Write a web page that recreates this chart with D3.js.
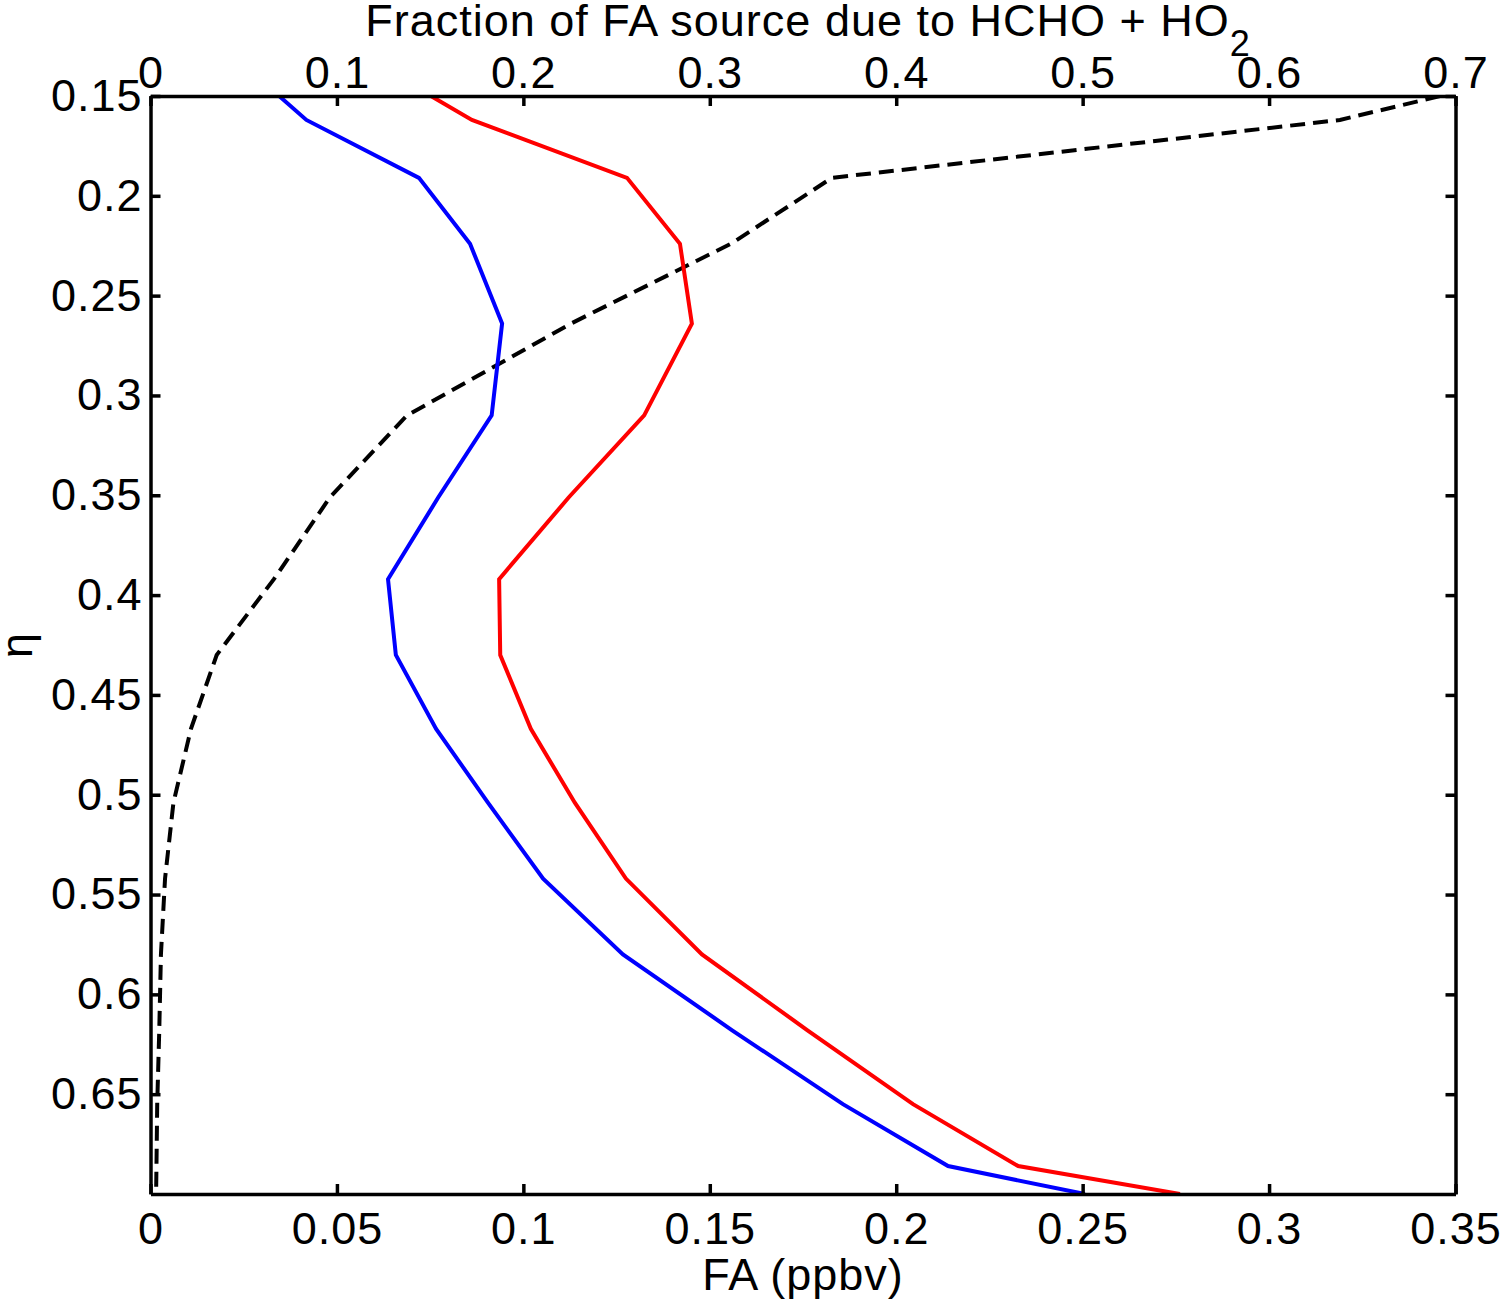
<!DOCTYPE html>
<html>
<head>
<meta charset="utf-8">
<script src="https://cdn.jsdelivr.net/npm/d3@7"></script>
<style>
  body { margin: 0; background: #fff; }
  svg text { font-family: "Liberation Sans", Arial, sans-serif; fill: #000; letter-spacing: 1px; }
</style>
</head>
<body>
<div id="chart"></div>
<script>
// eta levels (vertical coordinate)
const eta = [0.150, 0.162, 0.191, 0.224, 0.264, 0.310, 0.351, 0.392, 0.430, 0.467, 0.504, 0.542, 0.580, 0.618, 0.655, 0.686, 0.700];
// FA (ppbv), bottom axis
const faBlue = [0.0345, 0.0418, 0.0720, 0.0857, 0.0943, 0.0915, 0.0772, 0.0637, 0.0658, 0.0766, 0.0905, 0.1053, 0.1267, 0.1560, 0.1857, 0.2139, 0.2506];
const faRed = [0.0752, 0.0862, 0.1278, 0.1420, 0.1452, 0.1324, 0.1122, 0.0935, 0.0938, 0.1020, 0.1138, 0.1275, 0.1479, 0.1762, 0.2045, 0.2327, 0.2761];
// fraction of FA source due to HCHO + HO2, top axis
const fraction = [0.6917, 0.638, 0.3655, 0.3114, 0.2255, 0.1376, 0.0963, 0.0662, 0.0355, 0.0217, 0.0123, 0.0078, 0.0056, 0.0047, 0.0036, 0.0032, 0.0030];

const bottomTicks = [0, 0.05, 0.1, 0.15, 0.2, 0.25, 0.3, 0.35];
const bottomLabels = ["0", "0.05", "0.1", "0.15", "0.2", "0.25", "0.3", "0.35"];
const topTicks = [0, 0.1, 0.2, 0.3, 0.4, 0.5, 0.6, 0.7];
const topLabels = ["0", "0.1", "0.2", "0.3", "0.4", "0.5", "0.6", "0.7"];
const etaTicks = [0.15, 0.2, 0.25, 0.3, 0.35, 0.4, 0.45, 0.5, 0.55, 0.6, 0.65];
const etaLabels = ["0.15", "0.2", "0.25", "0.3", "0.35", "0.4", "0.45", "0.5", "0.55", "0.6", "0.65"];

const margin = {top: 96, right: 44.5, bottom: 108, left: 150.5};
const W = 1500, H = 1302;
const width = W - margin.left - margin.right;
const height = H - margin.top - margin.bottom;
const fontSize = "45px";

const svg = d3.select("#chart").append("svg")
    .attr("width", W)
    .attr("height", H);

const g = svg.append("g")
    .attr("transform", `translate(${margin.left},${margin.top})`);

const x = d3.scaleLinear().domain([0, 0.35]).range([0, width]);
const xTop = d3.scaleLinear().domain([0, 0.7]).range([0, width]);
const y = d3.scaleLinear().domain([0.15, 0.7]).range([0, height]);

g.append("clipPath").attr("id", "plot-clip")
    .append("rect").attr("width", width).attr("height", height);

// series
const rows = eta.map((e, i) => ({eta: e, blue: faBlue[i], red: faRed[i], frac: fraction[i]}));

const lines = g.append("g").attr("clip-path", "url(#plot-clip)");

lines.append("path")
    .datum(rows)
    .attr("fill", "none")
    .attr("stroke", "#000")
    .attr("stroke-width", 4)
    .attr("stroke-dasharray", "15,8")
    .attr("d", d3.line().x(d => xTop(d.frac)).y(d => y(d.eta)));

lines.append("path")
    .datum(rows)
    .attr("fill", "none")
    .attr("stroke", "#0000ff")
    .attr("stroke-width", 4)
    .attr("d", d3.line().x(d => x(d.blue)).y(d => y(d.eta)));

lines.append("path")
    .datum(rows)
    .attr("fill", "none")
    .attr("stroke", "#ff0000")
    .attr("stroke-width", 4)
    .attr("d", d3.line().x(d => x(d.red)).y(d => y(d.eta)));

// axes, ticks pointing inward on all sides
function styleAxis(sel) {
    sel.select(".domain").attr("stroke", "#000").attr("stroke-width", 3.5);
    sel.selectAll(".tick line").attr("stroke", "#000").attr("stroke-width", 3.5);
    sel.selectAll(".tick text").style("font-size", fontSize).attr("fill", "#000");
}

g.append("g")
    .attr("transform", `translate(0,${height})`)
    .call(d3.axisBottom(x).tickValues(bottomTicks)
        .tickFormat((d, i) => bottomLabels[i])
        .tickSizeInner(-10).tickSizeOuter(0).tickPadding(18))
    .call(styleAxis);

g.append("g")
    .call(d3.axisTop(xTop).tickValues(topTicks)
        .tickFormat((d, i) => topLabels[i])
        .tickSizeInner(-10).tickSizeOuter(0).tickPadding(8))
    .call(styleAxis);

g.append("g")
    .call(d3.axisLeft(y).tickValues(etaTicks)
        .tickFormat((d, i) => etaLabels[i])
        .tickSizeInner(-10).tickSizeOuter(0).tickPadding(8))
    .call(styleAxis);

g.append("g")
    .attr("transform", `translate(${width},0)`)
    .call(d3.axisRight(y).tickValues(etaTicks)
        .tickFormat("")
        .tickSizeInner(-10).tickSizeOuter(0))
    .call(styleAxis);

// axis titles
svg.append("text")
    .attr("x", margin.left + width / 2)
    .attr("y", 1290)
    .attr("text-anchor", "middle")
    .style("font-size", fontSize)
    .text("FA (ppbv)");

const title = svg.append("text")
    .attr("x", 808)
    .attr("y", 36)
    .attr("text-anchor", "middle")
    .style("font-size", fontSize);
title.append("tspan").text("Fraction of FA source due to HCHO + HO");
title.append("tspan").attr("dy", 20).style("font-size", "36px").text("2");

svg.append("text")
    .attr("transform", "translate(32,645) rotate(-90)")
    .attr("text-anchor", "middle")
    .style("font-size", fontSize)
    .text("η");
</script>
</body>
</html>
